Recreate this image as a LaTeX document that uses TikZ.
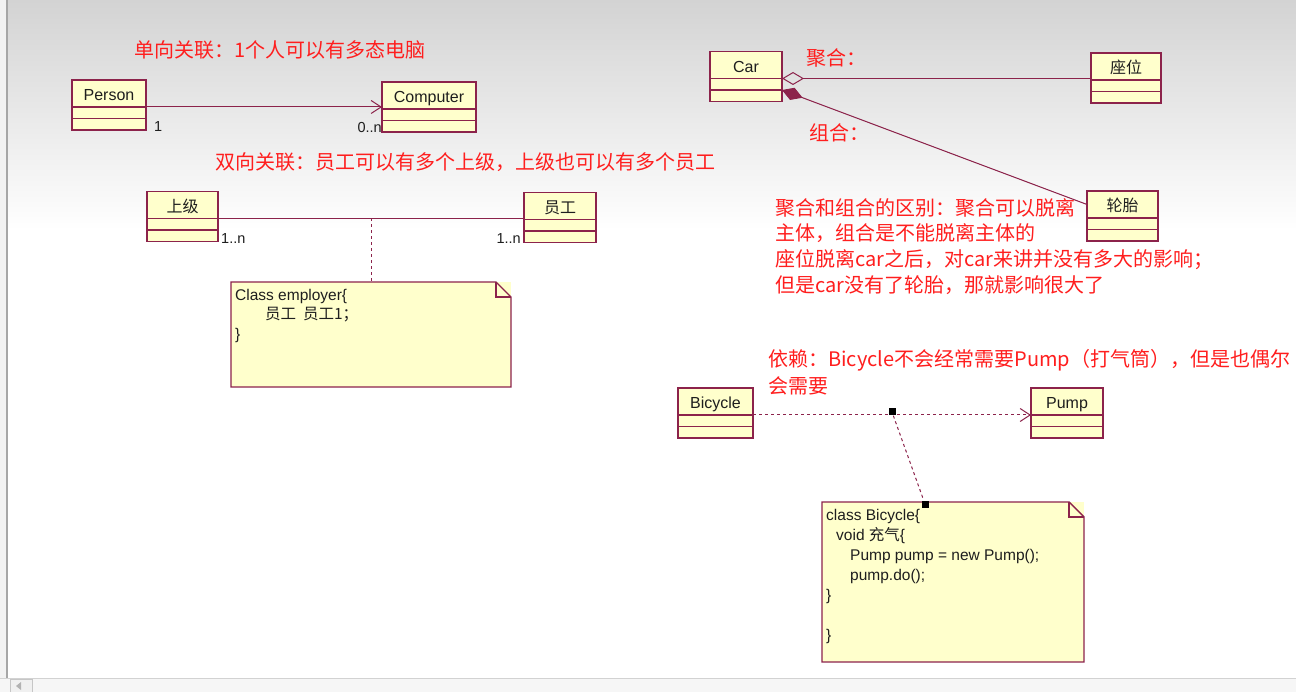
\documentclass[tikz,border=0pt]{standalone}
\usepackage{fontspec}
\setmainfont{Liberation Sans}
\newfontfamily\cjk{Noto Sans CJK SC}
\usepackage{tikz}
\usetikzlibrary{arrows.meta,calc,positioning}
\definecolor{darkrose}{RGB}{140,35,75}
\definecolor{paleyellow}{RGB}{255,255,204}
\definecolor{notered}{RGB}{255,30,30}
\definecolor{inkgray}{RGB}{30,30,30}

% one class box: head plus two empty compartments
\newcommand{\umlclass}[4]{%
  \node[classhead, minimum width=#3] (#1) at (#2) {#4};
  \node[classpart, minimum width=#3, below=0pt of #1] (#1-a) {};
  \node[classpart, minimum width=#3, below=0pt of #1-a] (#1-b) {};
}
% note outline with a folded corner
\newcommand{\notefold}[1]{%
  \draw[noteline] (#1.north west) -- ([xshift=-15pt]#1.north east)
    -- ([yshift=-15pt]#1.north east) -- (#1.south east) -- (#1.south west) -- cycle;
  \draw[noteline] ([xshift=-15pt]#1.north east) |- ([yshift=-15pt]#1.north east);
}

\begin{document}
\begin{tikzpicture}[x=1pt, y=-1pt,
    classhead/.style={draw=darkrose, line width=1.4pt, fill=paleyellow, minimum height=27pt,
      inner sep=0pt, outer sep=0pt, text height=17pt, text depth=2pt, text=inkgray,
      font=\fontsize{16}{18}\selectfont},
    classpart/.style={draw=darkrose, line width=1.4pt, fill=paleyellow, minimum height=11.5pt,
      inner sep=0pt, outer sep=0pt},
    link/.style={draw=darkrose, line width=1pt},
    hint/.style={draw=darkrose, line width=1pt, dash pattern=on 3pt off 3pt},
    mult/.style={inner sep=0pt, text=inkgray, font=\fontsize{14.5}{16}\selectfont},
    remark/.style={inner sep=0pt, anchor=west, text=notered, font=\cjk\fontsize{20}{24}\selectfont},
    notebox/.style={fill=paleyellow, inner sep=0pt, outer sep=0pt, anchor=north west},
    noteline/.style={draw=darkrose, line width=1.4pt},
    notetext/.style={inner sep=0pt, anchor=north west, align=left, text=inkgray,
      font=\fontsize{15.5}{19.5}\selectfont},
    handle/.style={fill=black, minimum size=7pt, inner sep=0pt}]
  \useasboundingbox (0,0) rectangle (1296,692);
  %Window
  \fill[white] (0,0) rectangle (1296,692);
  \shade[top color={rgb,255:red,211;green,211;blue,211}, bottom color=white] (0,0) rectangle (1296,230);
  \fill[gray!10] (0,0) rectangle (6,678);
  \draw[gray!70, line width=2pt] (7,0) -- (7,678);
  \fill[gray!7] (0,678) rectangle (1296,692);
  \draw[gray!35] (0,678) -- (1296,678);
  \draw[gray!45, fill=gray!12] (10,679) rectangle (32,692);
  \fill[gray!60] (16,686) -- (21,682) -- (21,690) -- cycle;
  %Remarks
  \node[remark] (uniassoc) at (134,50) {单向关联：1个人可以有多态电脑};
  \node[remark] (biassoc) at (215,162) {双向关联：员工可以有多个上级，上级也可以有多个员工};
  \node[remark] (agglabel) at (806,58) {聚合：};
  \node[remark] (complabel) at (809,133) {组合：};
  \node[remark] (diff1) at (775,208) {聚合和组合的区别：聚合可以脱离};
  \node[remark] (diff2) at (775,233) {主体，组合是不能脱离主体的};
  \node[remark] (diff3) at (775,260) {座位脱离car之后，对car来讲并没有多大的影响；};
  \node[remark] (diff4) at (775,285) {但是car没有了轮胎，那就影响很大了};
  \node[remark] (dep1) at (768,360) {依赖：Bicycle不会经常需要Pump（打气筒），但是也偶尔};
  \node[remark] (dep2) at (768,386) {会需要};
  %Classes
  \umlclass{person}{109,93.5}{74}{Person}
  \umlclass{computer}{429,95.5}{94}{Computer}
  \umlclass{boss}{182.5,205}{71}{\cjk 上级}
  \umlclass{staff}{560,206}{72}{\cjk 员工}
  \umlclass{car}{746,65}{72}{Car}
  \umlclass{seat}{1126,66.5}{70}{\cjk 座位}
  \umlclass{tire}{1122.5,204.5}{71}{\cjk 轮胎}
  \umlclass{bicycle}{715.5,401.5}{75}{Bicycle}
  \umlclass{pump}{1067,401.5}{72}{Pump}
  %Notes
  \node[notebox, minimum width=280pt, minimum height=105pt] (empnote) at (231,282) {};
  \notefold{empnote}
  \node[notetext] (emptext) at (235,289) {Class employer\{\\
    \hspace*{30pt}{\cjk 员工\ \ 员工1；}\\
    \}};
  \node[notebox, minimum width=262pt, minimum height=160pt] (bikenote) at (822,502) {};
  \notefold{bikenote}
  \node[notetext, font=\fontsize{15.5}{20}\selectfont] (biketext) at (826,509) {class Bicycle\{\\
    \hspace*{10pt}void {\cjk 充气}\{\\
    \hspace*{24pt}Pump pump = new Pump();\\
    \hspace*{24pt}pump.do();\\
    \}\\[20pt]
    \}};
  %Links
  \draw[link, -{Straight Barb[length=10pt,width=13pt]}] (person.south east) -- (person.south east -| computer.west);
  \node[mult, anchor=west] (pmult) at (154,127) {1};
  \node[mult, anchor=east] (cmult) at (382,128) {0..n};
  \draw[link] (boss.south east) -- coordinate[pos=0.5] (bossmid) (boss.south east -| staff.west);
  \node[mult, anchor=west] (bmult) at (221,239) {1..n};
  \node[mult, anchor=east] (smult) at (521,239) {1..n};
  \draw[hint] (bossmid) -- (bossmid |- empnote.north);
  \draw[link, {Diamond[open,length=22pt,width=13pt]}-] (car.south east) -- (car.south east -| seat.west);
  \draw[link, fill=darkrose, {Diamond[length=22pt,width=13pt]}-] (car-a.south east) -- (tire.west);
  \draw[hint, -{Straight Barb[length=10pt,width=13pt]}] (bicycle.south east) -- coordinate[pos=0.5] (bikemid) (bicycle.south east -| pump.west);
  \node[handle, yshift=3pt] (dephandle) at (bikemid) {};
  \node[handle] (notehandle) at ([xshift=103pt,yshift=-2pt]bikenote.north west) {};
  \draw[hint] (dephandle) -- (notehandle);
\end{tikzpicture}
\end{document}
